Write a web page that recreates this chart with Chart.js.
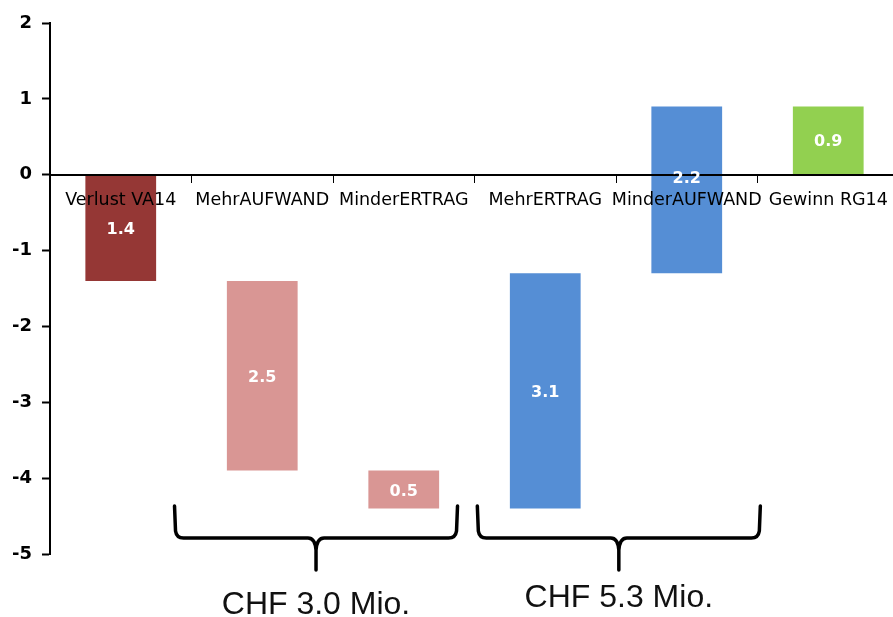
<!DOCTYPE html>
<html lang="de">
<head>
    <meta charset="UTF-8">
    <title>Abweichung VA14 / RG14</title>
    <script src="https://cdn.jsdelivr.net/npm/chart.js"></script>
    <style>
        html, body { margin: 0; padding: 0; background: #fff; overflow: hidden; }
        .chart-box { width: 900px; height: 617px; }
    </style>
</head>
<body>
    <div class="chart-box">
        <canvas id="waterfall"></canvas>
    </div>

    <script>
        // Kategorien und Balken (von / bis in Mio. CHF)
        const categories = ["Verlust VA14", "MehrAUFWAND", "MinderERTRAG", "MehrERTRAG", "MinderAUFWAND", "Gewinn RG14"];
        const barFrom = [0, -1.4, -3.9, -4.4, -1.3, 0];
        const barTo = [-1.4, -3.9, -4.4, -1.3, 0.9, 0.9];
        const valueLabels = ["1.4", "2.5", "0.5", "3.1", "2.2", "0.9"];
        const barColors = ["#953735", "#D99694", "#D99694", "#558ED5", "#558ED5", "#92D050"];
        const yTicks = [2, 1, 0, -1, -2, -3, -4, -5];

        // Klammern unter den Balken: Bereich in Kategorie-Index, Text darunter
        const groupLabels = ["CHF 3.0 Mio.", "CHF 5.3 Mio."];
        const groupFrom = [0.38, 2.52];
        const groupTo = [2.38, 4.52];

        const valueLabelPlugin = {
            id: "valueLabels",
            afterDraw(chart) {
                let ctx = chart.ctx;
                let meta = chart.getDatasetMeta(0);
                let zero = chart.scales.y.getPixelForValue(0);
                ctx.save();
                ctx.fillStyle = "#fff";
                ctx.font = "bold 16px 'DejaVu Sans'";
                ctx.textAlign = "center";
                ctx.textBaseline = "middle";
                meta.data.forEach((bar, i) => {
                    let y = (bar.y + bar.base) / 2 + 2;
                    // Balken ueber die Nulllinie: Wert direkt an der Achse
                    if (barFrom[i] < 0 && barTo[i] > 0) y = zero + 4;
                    ctx.fillText(valueLabels[i], bar.x, y);
                });
                ctx.restore();
            }
        };

        const bracePlugin = {
            id: "braces",
            afterDraw(chart) {
                let ctx = chart.ctx;
                let x = chart.scales.x;
                let top = 506, mid = 538, tip = 570, r = 7;
                ctx.save();
                ctx.strokeStyle = "#000";
                ctx.lineWidth = 3.5;
                ctx.lineCap = "round";
                ctx.lineJoin = "round";
                groupLabels.forEach((text, i) => {
                    let x0 = x.getPixelForValue(groupFrom[i]);
                    let x1 = x.getPixelForValue(groupTo[i]);
                    let xm = (x0 + x1) / 2;
                    ctx.beginPath();
                    ctx.moveTo(x0, top);
                    ctx.lineTo(x0 + 1, mid - r);
                    ctx.quadraticCurveTo(x0 + 2, mid, x0 + r + 2, mid);
                    ctx.lineTo(xm - 8, mid);
                    ctx.quadraticCurveTo(xm - 1, mid, xm, mid + 12);
                    ctx.lineTo(xm, tip);
                    ctx.moveTo(xm, mid + 12);
                    ctx.quadraticCurveTo(xm + 1, mid, xm + 8, mid);
                    ctx.lineTo(x1 - r - 2, mid);
                    ctx.quadraticCurveTo(x1 - 2, mid, x1 - 1, mid - r);
                    ctx.lineTo(x1, top);
                    ctx.stroke();

                    ctx.fillStyle = "#111";
                    ctx.font = "32px 'Liberation Sans'";
                    ctx.textAlign = "center";
                    ctx.textBaseline = "alphabetic";
                    ctx.fillText(text, xm, i === 0 ? 614 : 607);
                });
                ctx.restore();
            }
        };

        new Chart(document.getElementById("waterfall"), {
            type: "bar",
            data: {
                labels: categories,
                datasets: [{
                    data: barFrom.map((v, i) => [v, barTo[i]]),
                    backgroundColor: barColors,
                    borderWidth: 0,
                    barPercentage: 0.5,
                    categoryPercentage: 1.0
                }]
            },
            options: {
                responsive: true,
                maintainAspectRatio: false,
                animation: false,
                layout: { padding: { top: 23, bottom: 63, left: 0, right: 1 } },
                plugins: {
                    legend: { display: false },
                    tooltip: { enabled: false }
                },
                scales: {
                    x: {
                        position: { y: 0 },
                        offset: true,
                        border: { color: "#000", width: 2, z: 1 },
                        grid: {
                            offset: true,
                            drawOnChartArea: false,
                            drawTicks: true,
                            tickLength: 7,
                            tickColor: "#000",
                            tickWidth: 1,
                            z: 1
                        },
                        ticks: {
                            color: "#000",
                            font: { family: "DejaVu Sans", size: 17.5 },
                            autoSkip: false,
                            maxRotation: 0,
                            padding: 8,
                            z: 1
                        }
                    },
                    y: {
                        min: -5,
                        max: 2,
                        afterFit(axis) { axis.width = 50; },
                        afterBuildTicks(axis) { axis.ticks = yTicks.map(v => ({ value: v })); },
                        border: { color: "#000", width: 2 },
                        grid: {
                            drawOnChartArea: false,
                            drawTicks: true,
                            tickLength: 8,
                            tickColor: "#000",
                            tickWidth: 2
                        },
                        ticks: {
                            color: "#000",
                            font: { family: "DejaVu Sans", size: 18, weight: "bold" },
                            padding: 10
                        }
                    }
                }
            },
            plugins: [valueLabelPlugin, bracePlugin]
        });
    </script>
</body>
</html>
